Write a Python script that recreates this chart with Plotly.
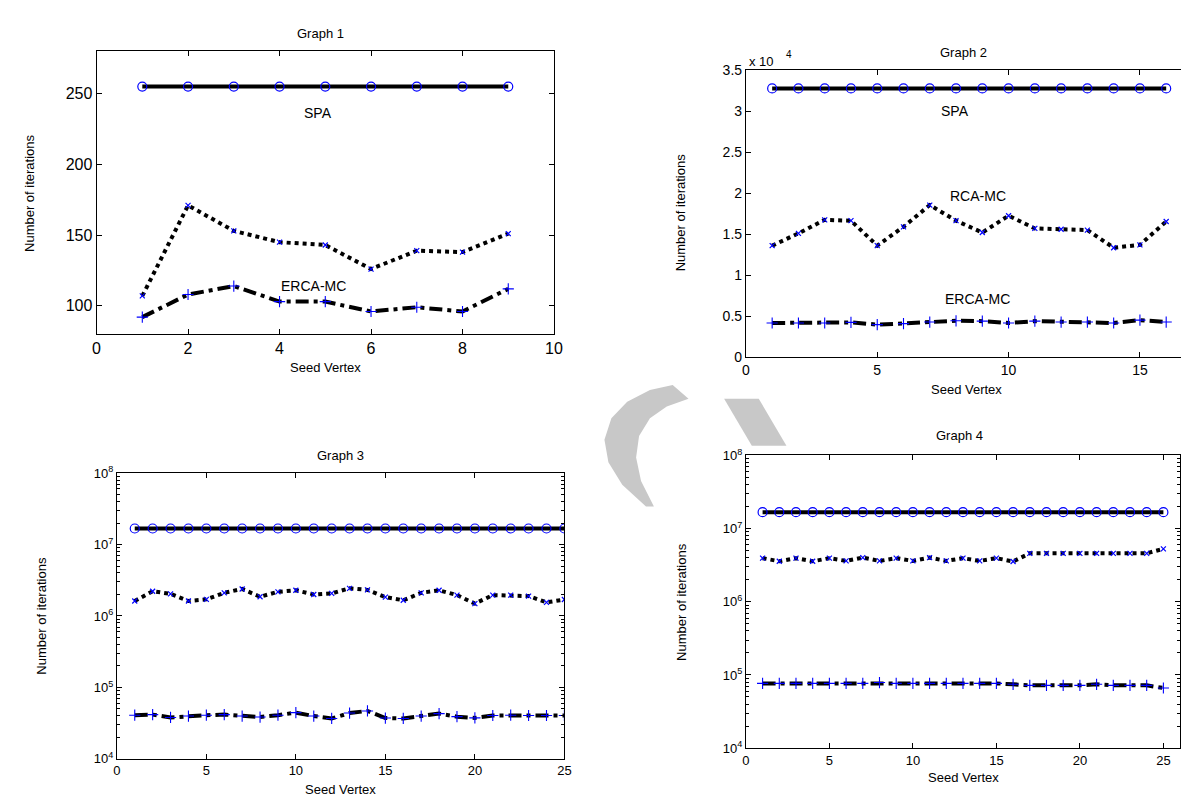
import plotly.graph_objects as go

W, H = 1189, 800

# ---------------- data ----------------
g1_x = list(range(1, 10))
g1_spa = [255] * 9
g1_rca = [107, 171, 153, 145, 143, 126, 139, 138, 151]
g1_erca = [92, 108, 114, 103, 103, 96, 99, 96, 112]

g2_x = list(range(1, 17))
g2_spa = [32768] * 16
g2_rca = [13600, 15100, 16750, 16650, 13600, 15900, 18550, 16650, 15200, 17250,
          15700, 15600, 15500, 13350, 13700, 16550]
g2_erca = [4170, 4170, 4170, 4250, 3970, 4090, 4290, 4440, 4400, 4170,
           4400, 4290, 4290, 4170, 4520, 4290]

g3_x = list(range(1, 26))
g3_spa = [16777216] * 25
g3_rca = [1.62e6, 2.22e6, 2.04e6, 1.62e6, 1.71e6, 2.11e6, 2.39e6, 1.86e6, 2.18e6, 2.29e6,
          2.00e6, 2.07e6, 2.44e6, 2.32e6, 1.84e6, 1.66e6, 2.11e6, 2.29e6, 1.96e6, 1.49e6,
          1.96e6, 1.96e6, 1.90e6, 1.55e6, 1.70e6]
g3_erca = [4.09e4, 4.17e4, 3.80e4, 3.98e4, 4.09e4, 4.17e4, 3.98e4, 3.85e4, 4.09e4, 4.44e4,
           3.98e4, 3.68e4, 4.38e4, 4.69e4, 3.73e4, 3.68e4, 3.98e4, 4.30e4, 3.90e4, 3.75e4,
           4.05e4, 4.09e4, 4.05e4, 4.05e4, 4.05e4]

g4_x = list(range(1, 26))
g4_spa = [16777216] * 25
g4_rca = [3.95e6, 3.58e6, 3.95e6, 3.58e6, 3.95e6, 3.62e6, 4.02e6, 3.62e6, 3.95e6, 3.62e6,
          4.02e6, 3.62e6, 3.95e6, 3.62e6, 3.95e6, 3.56e6, 4.60e6, 4.60e6, 4.60e6, 4.60e6,
          4.60e6, 4.60e6, 4.60e6, 4.60e6, 5.30e6]
g4_erca = [7.67e4, 7.67e4, 7.67e4, 7.67e4, 7.67e4, 7.67e4, 7.67e4, 7.88e4, 7.67e4, 7.67e4,
           7.67e4, 7.67e4, 7.67e4, 7.67e4, 7.67e4, 7.45e4, 7.21e4, 7.21e4, 7.21e4, 7.21e4,
           7.45e4, 7.21e4, 7.21e4, 7.21e4, 6.64e4]

titles = ["Graph 1", "Graph 2", "Graph 3", "Graph 4"]
xlabel = "Seed Vertex"
ylabel = "Number of iterations"
series_names = ["SPA", "RCA-MC", "ERCA-MC"]

# ---------------- layout helpers (pixel boxes) ----------------
boxes = {  # left, top, right, bottom in pixels
    1: (85.5, 35, 548, 324),
    2: (742, 54.3, 1188, 347.6),
    3: (106, 466, 558.5, 758),
    4: (742, 448, 1181, 747),
}

def px(x):
    return x / W

def py(y):
    return 1 - y / H

FONT = "Liberation Sans, Arial, sans-serif"
BLUE = "#0000ff"

fig = go.Figure()

def add_series(k, x, spa, rca, erca):
    xa = "x" if k == 1 else f"x{k}"
    ya = "y" if k == 1 else f"y{k}"
    fig.add_trace(go.Scatter(x=x, y=spa, mode="lines+markers", xaxis=xa, yaxis=ya,
                             line=dict(color="black", width=4),
                             marker=dict(symbol="circle-open", size=9, color=BLUE,
                                         line=dict(width=1.2, color=BLUE)),
                             showlegend=False, name=series_names[0]))
    fig.add_trace(go.Scatter(x=x, y=rca, mode="lines+markers", xaxis=xa, yaxis=ya,
                             line=dict(color="black", width=4, dash="4px,4px"),
                             marker=dict(symbol="x-thin-open", size=5, color=BLUE,
                                         line=dict(width=1.2, color=BLUE)),
                             showlegend=False, name=series_names[1]))
    fig.add_trace(go.Scatter(x=x, y=erca, mode="lines+markers", xaxis=xa, yaxis=ya,
                             line=dict(color="black", width=4, dash="13px,5px,4px,5px"),
                             marker=dict(symbol="cross-thin-open", size=8, color=BLUE,
                                         line=dict(width=1.1, color=BLUE)),
                             showlegend=False, name=series_names[2]))

add_series(1, g1_x, g1_spa, g1_rca, g1_erca)
add_series(2, g2_x, g2_spa, g2_rca, g2_erca)
add_series(3, g3_x, g3_spa, g3_rca, g3_erca)
add_series(4, g4_x, g4_spa, g4_rca, g4_erca)

def axis_common(size):
    return dict(showline=True, linecolor="black", linewidth=1, mirror="ticks",
                ticks="inside", ticklen=5, tickcolor="black", tickwidth=1,
                showgrid=False, zeroline=False,
                tickfont=dict(family=FONT, size=size, color="black"))

layout = dict(width=W, height=H, margin=dict(l=0, r=0, t=0, b=0),
              paper_bgcolor="white", plot_bgcolor="rgba(0,0,0,0)",
              font=dict(family=FONT, color="black"), showlegend=False)

# Graph 1
L, T, R, B = boxes[1]
layout["xaxis"] = dict(axis_common(16), domain=[px(L), px(R)], range=[0, 10],
                       tickvals=[0, 2, 4, 6, 8, 10], anchor="y")
layout["yaxis"] = dict(axis_common(16), domain=[py(B), py(T)], range=[80, 280],
                       tickvals=[100, 150, 200, 250], anchor="x")
# Graph 2
L, T, R, B = boxes[2]
g2_ticks = [0, 5000, 10000, 15000, 20000, 25000, 30000, 35000]
g2_text = ["0", "0.5", "1", "1.5", "2", "2.5", "3", "3.5"]
layout["xaxis2"] = dict(axis_common(14), domain=[px(L), min(1, px(R + 1))], range=[0, (R - L) / 26.5],
                        tickvals=[0, 5, 10, 15], anchor="y2")
layout["yaxis2"] = dict(axis_common(14), domain=[py(B), py(T)], range=[0, 35000],
                        tickvals=g2_ticks, ticktext=g2_text, anchor="x2")

log_major = [1e4, 1e5, 1e6, 1e7, 1e8]
log_text = ["10<sup>4</sup>", "10<sup>5</sup>", "10<sup>6</sup>", "10<sup>7</sup>", "10<sup>8</sup>"]
log_minor = [m * 10 ** e for e in range(4, 8) for m in range(2, 10)]

# Graph 3
L, T, R, B = boxes[3]
layout["xaxis3"] = dict(axis_common(13), domain=[px(L), px(R)], range=[0, 25],
                        tickvals=[0, 5, 10, 15, 20, 25], anchor="y3")
layout["yaxis3"] = dict(axis_common(13), domain=[py(B), py(T)], type="log", range=[4, 8],
                        tickvals=log_major, ticktext=log_text, anchor="x3",
                        minor=dict(tickvals=log_minor, ticks="inside", ticklen=3,
                                   tickcolor="black", showgrid=False))
# Graph 4
L, T, R, B = boxes[4]
layout["xaxis4"] = dict(axis_common(13), domain=[px(L), px(R)], range=[0, 26],
                        tickvals=[0, 5, 10, 15, 20, 25], anchor="y4")
layout["yaxis4"] = dict(axis_common(13), domain=[py(B), py(T)], type="log", range=[4, 8],
                        tickvals=log_major, ticktext=log_text, anchor="x4",
                        minor=dict(tickvals=log_minor, ticks="inside", ticklen=3,
                                   tickcolor="black", showgrid=False))

fig.update_layout(**layout)

ann = []
def paper_text(text, x, y, size=13, angle=0, xanchor="center"):
    ann.append(dict(text=text, x=px(x), y=py(y), xref="paper", yref="paper",
                    showarrow=False, textangle=angle, xanchor=xanchor, yanchor="middle",
                    font=dict(family=FONT, size=size, color="black")))

# titles
paper_text(titles[0], 312, 17)
paper_text(titles[1], 962, 36)
paper_text(titles[2], 332, 448)
paper_text(titles[3], 958, 428)
# x labels
paper_text(xlabel, 317, 358)
paper_text(xlabel, 965, 381)
paper_text(xlabel, 332, 789)
paper_text(xlabel, 962, 777)
# y labels
paper_text(ylabel, 17, 180, angle=-90)
paper_text(ylabel, 676, 200, angle=-90)
paper_text(ylabel, 30, 612, angle=-90)
paper_text(ylabel, 677, 598, angle=-90)
# exponent for graph 2
paper_text("x 10", 743, 45, size=13, xanchor="left")
paper_text("4", 781, 38, size=10, xanchor="left")

def data_text(k, text, x, y, size=14):
    xr = "x" if k == 1 else f"x{k}"
    yr = "y" if k == 1 else f"y{k}"
    ann.append(dict(text=text, x=x, y=y, xref=xr, yref=yr, showarrow=False,
                    font=dict(family=FONT, size=size, color="black")))

data_text(1, series_names[0], 4.85, 236)
data_text(1, series_names[2], 4.75, 114)
data_text(2, series_names[0], 7.95, 30000)
data_text(2, series_names[1], 8.85, 19700)
data_text(2, series_names[2], 8.8, 7100)
data_text(3, series_names[0], 11.9, 10 ** 7.46)
data_text(3, series_names[1], 12.45, 10 ** 6.63)
data_text(3, series_names[2], 12.4, 10 ** 4.886)
data_text(4, series_names[0], 12.2, 10 ** 7.45)

fig.update_layout(annotations=ann)

# watermark (decorative gray shapes)
def ppath(points):
    s = "M " + " L ".join(f"{px(a):.5f},{py(b):.5f}" for a, b in points) + " Z"
    return s

wm = "#c8c8c8"
arc = [(668, 376), (645, 381), (622, 393), (606, 410), (599, 432), (603, 455),
       (617, 478), (641, 500), (649, 500), (636, 474), (631, 450), (634, 428),
       (645, 410), (662, 398), (684, 390)]
slash = [(720, 390), (755, 390), (783, 438), (748, 438)]
fig.update_layout(shapes=[
    dict(type="path", xref="paper", yref="paper", path=ppath(arc), fillcolor=wm,
         line=dict(width=0), layer="below"),
    dict(type="path", xref="paper", yref="paper", path=ppath(slash), fillcolor=wm,
         line=dict(width=0), layer="below"),
])

fig.write_html("out.html")
